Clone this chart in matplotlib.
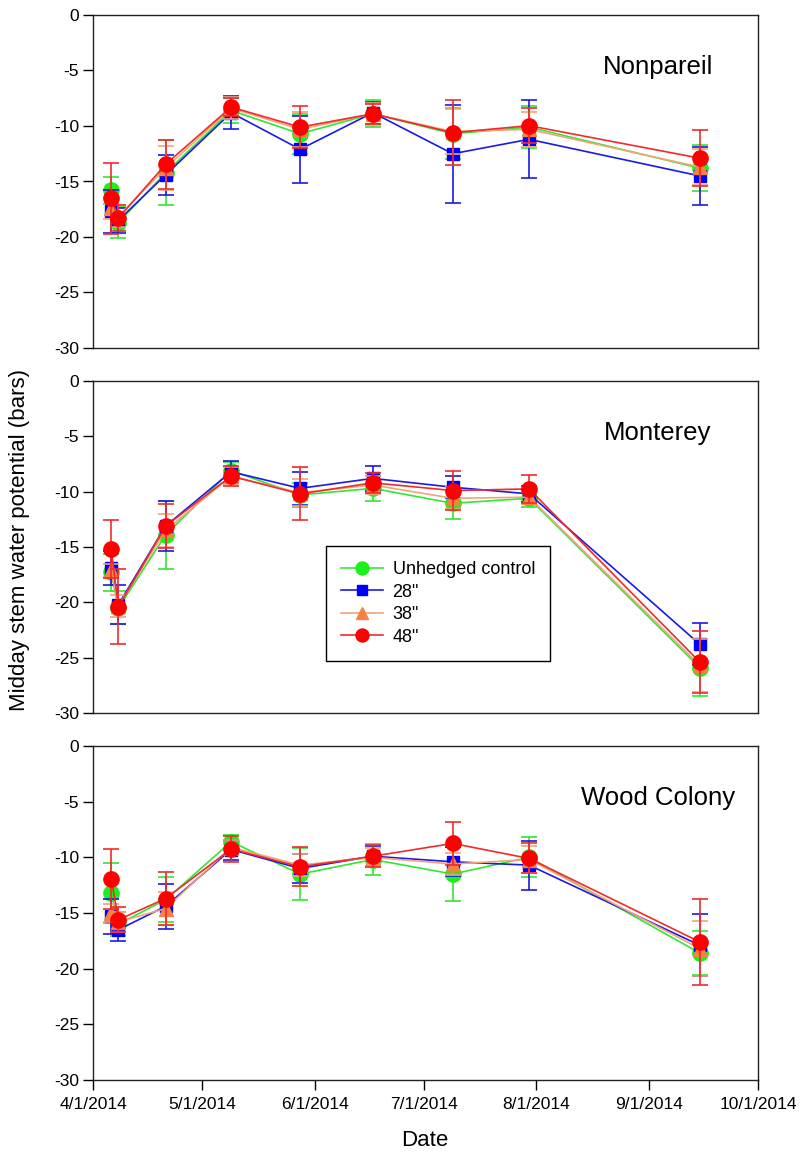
import matplotlib
matplotlib.use("Agg")
import matplotlib.pyplot as plt
from matplotlib.lines import Line2D
import datetime as dt

plt.rcParams['font.family'] = ['Liberation Sans', 'DejaVu Sans']

# ---------------- data ----------------
dates = ["2014-04-06", "2014-04-08", "2014-04-21", "2014-05-09", "2014-05-28",
         "2014-06-17", "2014-07-09", "2014-07-30", "2014-09-15"]
series_names = ["Unhedged control", '28"', '38"', '48"']
sites = ["Nonpareil", "Monterey", "Wood Colony"]
xtick_dates = ["2014-04-01", "2014-05-01", "2014-06-01", "2014-07-01",
               "2014-08-01", "2014-09-01", "2014-10-01"]
xtick_labels = ["4/1/2014", "5/1/2014", "6/1/2014", "7/1/2014",
                "8/1/2014", "9/1/2014", "10/1/2014"]
yticks = [0, -5, -10, -15, -20, -25, -30]

# Nonpareil
np_ctrl = [-15.8, -18.7, -14.2, -8.6, -10.7, -8.9, -10.7, -10.1, -13.8]
np_ctrl_err = [1.2, 1.4, 2.9, 1.1, 1.8, 1.2, 2.3, 1.9, 2.1]
np_28 = [-17.7, -18.5, -14.4, -8.8, -12.1, -8.8, -12.5, -11.2, -14.5]
np_28_err = [1.9, 1.1, 1.8, 1.5, 3.0, 1.0, 4.4, 3.5, 2.6]
np_38 = [-17.4, -18.1, -13.8, -8.4, -10.3, -8.9, -10.5, -10.3, -13.7]
np_38_err = [1.0, 1.0, 2.0, 1.0, 1.6, 1.0, 2.0, 1.6, 1.6]
np_48 = [-16.5, -18.3, -13.45, -8.3, -10.1, -8.9, -10.6, -9.97, -12.9]
np_48_err = [3.2, 1.2, 2.2, 0.8, 1.9, 0.9, 2.9, 1.6, 2.5]

# Monterey
mo_ctrl = [-17.3, -20.5, -13.9, -8.1, -10.3, -9.7, -11.05, -10.6, -25.9]
mo_ctrl_err = [1.7, 1.5, 3.1, 0.8, 1.1, 1.1, 1.45, 0.8, 2.6]
mo_28 = [-16.9, -20.2, -13.1, -8.2, -9.7, -8.8, -9.6, -10.2, -23.8]
mo_28_err = [1.5, 1.8, 2.3, 1.0, 1.5, 1.15, 1.0, 0.7, 1.9]
mo_38 = [-17.1, -20.3, -13.5, -8.6, -10.1, -9.4, -10.6, -10.5, -25.7]
mo_38_err = [0.6, 1.0, 1.5, 0.8, 1.2, 0.8, 1.0, 0.6, 2.4]
mo_48 = [-15.2, -20.4, -13.1, -8.6, -10.2, -9.2, -9.9, -9.75, -25.4]
mo_48_err = [2.6, 3.4, 2.0, 0.9, 2.4, 0.9, 1.8, 1.3, 2.8]

# Wood Colony
wc_ctrl = [-13.2, -16.0, -13.8, -8.6, -11.5, -10.2, -11.5, -10.0, -18.6]
wc_ctrl_err = [2.7, 1.1, 2.0, 0.6, 2.3, 1.4, 2.4, 1.8, 2.0]
wc_28 = [-15.3, -16.5, -14.4, -9.3, -11.0, -9.9, -10.4, -10.7, -17.9]
wc_28_err = [1.6, 1.0, 2.0, 0.9, 1.3, 0.9, 1.3, 2.2, 2.8]
wc_38 = [-15.0, -15.8, -14.6, -9.1, -10.7, -10.0, -10.6, -10.2, -18.2]
wc_38_err = [0.8, 0.9, 1.5, 0.7, 1.0, 0.8, 1.0, 1.2, 2.5]
wc_48 = [-11.95, -15.6, -13.7, -9.25, -10.85, -9.9, -8.75, -10.1, -17.6]
wc_48_err = [2.7, 1.1, 2.4, 1.15, 1.75, 1.0, 1.9, 1.35, 3.9]

panel_data = [
    [(np_ctrl, np_ctrl_err), (np_28, np_28_err), (np_38, np_38_err), (np_48, np_48_err)],
    [(mo_ctrl, mo_ctrl_err), (mo_28, mo_28_err), (mo_38, mo_38_err), (mo_48, mo_48_err)],
    [(wc_ctrl, wc_ctrl_err), (wc_28, wc_28_err), (wc_38, wc_38_err), (wc_48, wc_48_err)],
]

# ---------------- styles ----------------
line_colors = ["#33E633", "#1A1AE6", "#F2A47A", "#F22A2A"]
marker_colors = ["#1AF01A", "#0000FF", "#F5833F", "#FF0000"]
markers = ["o", "s", "^", "o"]
msizes = [11, 9, 9.5, 11]

def to_dt(s):
    return dt.datetime.strptime(s, "%Y-%m-%d")

xd = [to_dt(d) for d in dates]
xt = [to_dt(d) for d in xtick_dates]

fig = plt.figure(figsize=(8.02, 11.56), dpi=100)
W, H = 802.0, 1156.0
left, right = 93 / W, 758 / W
panel_px = [(15, 348), (381, 713), (746, 1080)]

for i, (top, bot) in enumerate(panel_px):
    ax = fig.add_axes([left, 1 - bot / H, right - left, (bot - top) / H])
    for j, (vals, errs) in enumerate(panel_data[i]):
        ax.errorbar(xd, vals, yerr=errs, color=line_colors[j], lw=1.2,
                    elinewidth=1.2, capsize=6, capthick=1.2,
                    marker=markers[j], ms=msizes[j],
                    mfc=marker_colors[j], mec=marker_colors[j],
                    label=series_names[j], zorder=2 + j)
    ax.set_xlim(to_dt("2014-04-01"), to_dt("2014-10-01"))
    ax.set_ylim(-30, 0)
    ax.set_yticks(yticks)
    ax.set_yticklabels([str(v) for v in yticks])
    ax.tick_params(axis='y', direction='out', length=7, width=1, pad=3,
                   labelsize=12.5)
    ax.set_xticks(xt)
    if i == 2:
        ax.set_xticklabels(xtick_labels)
        ax.tick_params(axis='x', direction='out', length=7, width=1, pad=5,
                       labelsize=12.5)
    else:
        ax.tick_params(axis='x', length=0, labelbottom=False)
    for sp in ax.spines.values():
        sp.set_linewidth(1.0)
        sp.set_color("#222222")
    ax.text((658 - 93) / 665.0, 0.844, sites[i], transform=ax.transAxes,
            ha='center', va='center', fontsize=18.5)
    if i == 1:
        handles = [Line2D([], [], color=line_colors[j], lw=1.2,
                          marker=markers[j], ms=msizes[j] * 0.85,
                          mfc=marker_colors[j], mec=marker_colors[j])
                   for j in range(4)]
        leg = ax.legend(handles=handles, labels=series_names, loc='upper left',
                        bbox_to_anchor=(0.350, 0.503), fontsize=13,
                        frameon=True, fancybox=False, edgecolor='black',
                        framealpha=1, handlelength=2.3, handletextpad=0.55,
                        labelspacing=0.3, borderpad=0.85,
                        borderaxespad=0)
        leg.get_frame().set_linewidth(1.0)
        leg.set_zorder(10)

fig.text(20 / W, 1 - 540 / H, "Midday stem water potential (bars)",
         rotation=90, ha='center', va='center', fontsize=16)
fig.text(425 / W, 1 - 1140 / H, "Date", ha='center', va='center', fontsize=16)

fig.savefig("out.png", dpi=100)
